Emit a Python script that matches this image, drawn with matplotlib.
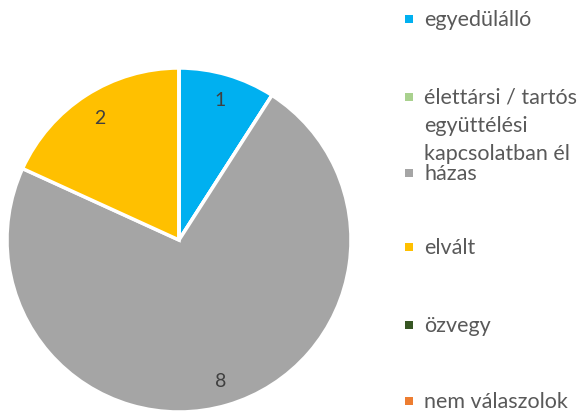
import matplotlib
matplotlib.use("Agg")
import matplotlib.pyplot as plt
from matplotlib.patches import Rectangle

categories = ["egyedülálló", "élettársi / tartós\negyüttélési\nkapcsolatban él", "házas", "elvált", "özvegy", "nem válaszolok"]
values = [1, 0, 8, 2, 0, 0]
colors = ["#00B0F0", "#A9D18E", "#A5A5A5", "#FFC000", "#375623", "#ED7D31"]

plt.rcParams['font.family'] = ['Lato', 'DejaVu Sans']

W, H = 585, 414
fig = plt.figure(figsize=(W/100, H/100), dpi=100)
ax = fig.add_axes([7/W, 1 - 413/H, 344/W, 344/H])

def fmt(p):
    v = round(p * sum(values) / 100)
    return f"{v}" if v > 0 else ""

wedges, texts, autotexts = ax.pie(values, colors=colors, startangle=90, counterclock=False,
                                  autopct=fmt, pctdistance=0.85,
                                  wedgeprops=dict(edgecolor="white", linewidth=2.5),
                                  textprops=dict(color="#404040", fontsize=14))
ax.set_xlim(-1, 1)
ax.set_ylim(-1, 1)
ax.set_aspect('equal')
ax.axis('off')

ys = [20, 98, 174, 248, 326, 402]
for cat, col, y in zip(categories, colors, ys):
    fig.patches.append(Rectangle(((405)/W, 1 - (y + 4)/H), 8/W, 8/H, transform=fig.transFigure,
                                 facecolor=col, edgecolor='none'))
    fig.text(424/W, 1 - (y - 10)/H, cat, ha='left', va='top', fontsize=15.5,
             color="#595959", linespacing=1.5)

fig.savefig("out.png", dpi=100)
